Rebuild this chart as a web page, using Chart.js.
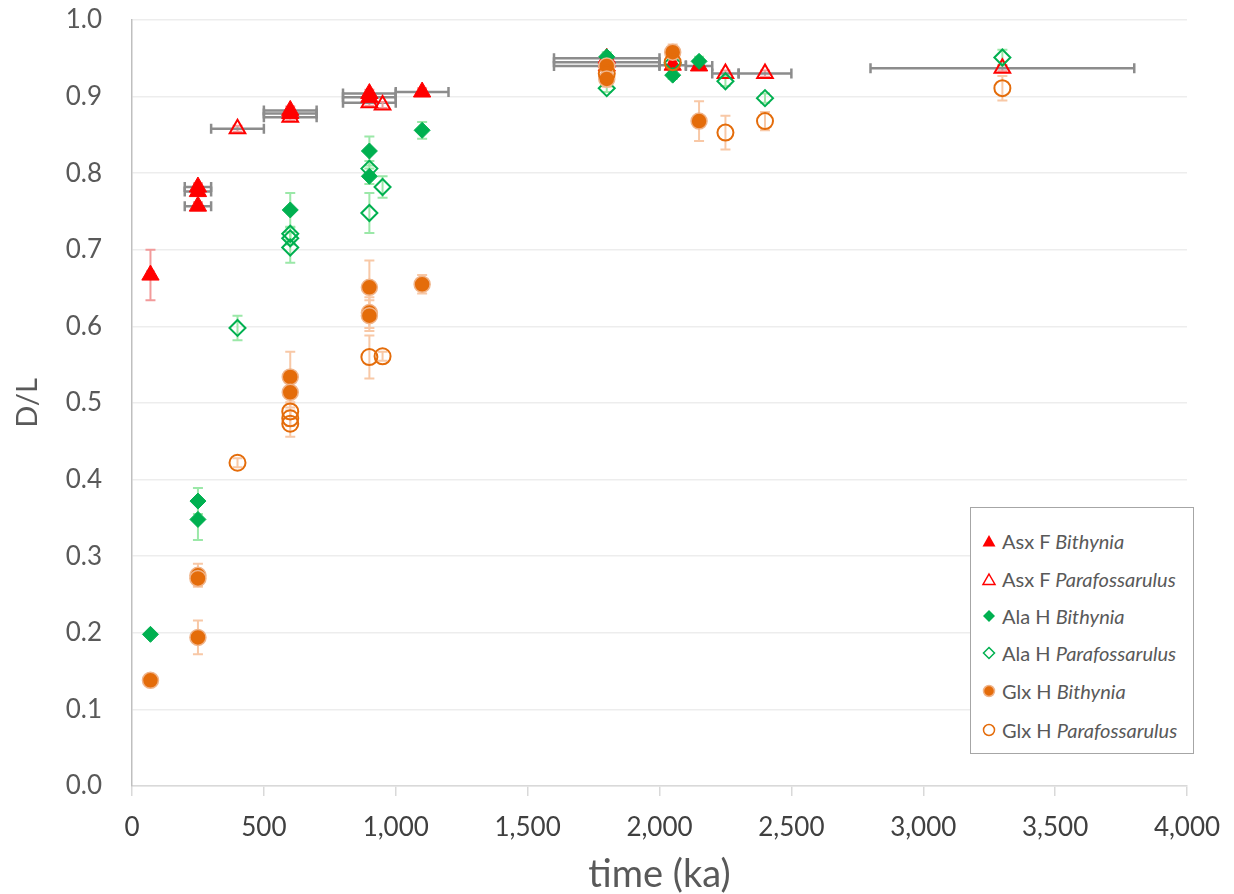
<!DOCTYPE html>
<html>
<head>
<meta charset="utf-8">
<script src="https://cdn.jsdelivr.net/npm/chart.js@4.4.1/dist/chart.umd.min.js"></script>
<style>
  html, body { margin: 0; padding: 0; background: #fff; }
  #wrap { position: relative; width: 1234px; height: 894px; }
  #legend {
    position: absolute; left: 970px; top: 507px; width: 224px; height: 247px;
    border: 1px solid #A6A6A6; background: #fff; box-sizing: border-box;
    font-family: Lato, "Open Sans", sans-serif; font-size: 20px; color: #595959;
  }
  .item { position: absolute; left: 10px; height: 26px; line-height: 26px; display: flex; align-items: center; white-space: nowrap; }
  .item svg { width: 16px; height: 16px; margin-right: 5px; }
</style>
</head>
<body>
<div id="wrap">
  <canvas id="chart" width="1234" height="894"></canvas>
  <div id="legend"></div>
</div>
<script>
// Asx F Bithynia
const asxBithX    = [70, 250, 250, 250, 600, 600, 900, 900, 1100, 1800, 1800, 1800, 2050, 2150];
const asxBithY    = [0.667, 0.782, 0.776, 0.757, 0.882, 0.878, 0.904, 0.899, 0.906, 0.950, 0.945, 0.940, 0.941, 0.940];
const asxBithXErr = [10, 50, 50, 50, 100, 100, 100, 100, 100, 200, 200, 200, 50, 50];
const asxBithYErr = [0.033, 0.005, 0.005, 0.005, 0.005, 0.005, 0.005, 0.005, 0.005, 0.005, 0.005, 0.005, 0.005, 0.005];

// Asx F Parafossarulus
const asxParaX    = [400, 600, 900, 950, 2250, 2400, 3300];
const asxParaY    = [0.858, 0.873, 0.892, 0.889, 0.930, 0.930, 0.937];
const asxParaXErr = [100, 100, 100, 0, 50, 100, 500];
const asxParaYErr = [0.004, 0.004, 0.004, 0.004, 0.004, 0.004, 0.004];

// Ala H Bithynia
const alaBithX    = [70, 250, 250, 600, 900, 900, 1100, 1800, 2050, 2150];
const alaBithY    = [0.198, 0.372, 0.348, 0.752, 0.829, 0.796, 0.856, 0.952, 0.928, 0.946];
const alaBithYErr = [0, 0.017, 0.027, 0.022, 0.019, 0.01, 0.011, 0.006, 0.005, 0.006];

// Ala H Parafossarulus
const alaParaX    = [400, 600, 600, 600, 900, 900, 950, 1800, 2050, 2250, 2400, 3300];
const alaParaY    = [0.598, 0.721, 0.715, 0.703, 0.806, 0.748, 0.782, 0.911, 0.944, 0.920, 0.898, 0.951];
const alaParaYErr = [0.016, 0.008, 0.008, 0.02, 0.01, 0.026, 0.014, 0.005, 0.005, 0.006, 0.006, 0.01];

// Glx H Bithynia
const glxBithX    = [70, 250, 250, 250, 600, 600, 900, 900, 900, 1100, 1800, 1800, 2050, 2150];
const glxBithY    = [0.138, 0.275, 0.271, 0.194, 0.534, 0.514, 0.651, 0.618, 0.614, 0.655, 0.940, 0.923, 0.958, 0.868];
const glxBithYErr = [0.004, 0.015, 0.01, 0.022, 0.033, 0.02, 0.035, 0.02, 0.02, 0.012, 0.01, 0.01, 0.01, 0.026];

// Glx H Parafossarulus
const glxParaX    = [400, 600, 600, 600, 900, 950, 1800, 2050, 2250, 2400, 3300];
const glxParaY    = [0.422, 0.489, 0.480, 0.473, 0.560, 0.561, 0.930, 0.945, 0.853, 0.868, 0.911];
const glxParaYErr = [0.006, 0.01, 0.01, 0.017, 0.028, 0.006, 0.01, 0.01, 0.022, 0.012, 0.016];

const xTicks = [0, 500, 1000, 1500, 2000, 2500, 3000, 3500, 4000];

const RED = '#FF0000', GREEN = '#00B050', ORANGE = '#E46C0A';

function pts(xs, ys) { return xs.map((x, i) => ({ x: x, y: ys[i] })); }

const datasets = [
  { label: 'Asx F Bithynia', data: pts(asxBithX, asxBithY), xErr: asxBithXErr, yErr: asxBithYErr, errColor: '#F29A9A',
    pointStyle: 'triangle', radius: 10, backgroundColor: RED, borderColor: RED, borderWidth: 1, order: 5 },
  { label: 'Asx F Parafossarulus', data: pts(asxParaX, asxParaY), xErr: asxParaXErr, yErr: asxParaYErr, errColor: '#F29A9A',
    pointStyle: 'triangle', radius: 9, backgroundColor: 'rgba(255,255,255,0)', borderColor: RED, borderWidth: 2, order: 4 },
  { label: 'Ala H Bithynia', data: pts(alaBithX, alaBithY), yErr: alaBithYErr, errColor: '#9BE8A8',
    pointStyle: 'rectRot', radius: 8, backgroundColor: GREEN, borderColor: GREEN, borderWidth: 1, order: 3 },
  { label: 'Ala H Parafossarulus', data: pts(alaParaX, alaParaY), yErr: alaParaYErr, errColor: '#9BE8A8',
    pointStyle: 'rectRot', radius: 8, backgroundColor: 'rgba(255,255,255,0)', borderColor: GREEN, borderWidth: 2, order: 2 },
  { label: 'Glx H Bithynia', data: pts(glxBithX, glxBithY), yErr: glxBithYErr, errColor: '#F8C8A6',
    pointStyle: 'circle', radius: 8, backgroundColor: ORANGE, borderColor: '#F0B48A', borderWidth: 1.5, order: 1 },
  { label: 'Glx H Parafossarulus', data: pts(glxParaX, glxParaY), yErr: glxParaYErr, errColor: '#F8C8A6',
    pointStyle: 'circle', radius: 8, backgroundColor: 'rgba(255,255,255,0)', borderColor: ORANGE, borderWidth: 2, order: 0 }
];
datasets.forEach(d => { d.pointRadius = d.radius; d.pointHoverRadius = d.radius; d.showLine = false; });

// error bars, drawn under the markers
const errorBars = {
  id: 'errorBars',
  beforeDatasetsDraw(chart) {
    const ctx = chart.ctx, xs = chart.scales.x, ys = chart.scales.y;
    ctx.save();
    chart.data.datasets.forEach(ds => {
      ds.data.forEach((p, i) => {
        const px = xs.getPixelForValue(p.x), py = ys.getPixelForValue(p.y);
        const ye = ds.yErr ? ds.yErr[i] : 0;
        if (ye > 0) {
          const t = ys.getPixelForValue(p.y + ye), b = ys.getPixelForValue(p.y - ye);
          ctx.strokeStyle = ds.errColor; ctx.lineWidth = 2;
          ctx.beginPath();
          ctx.moveTo(px, t); ctx.lineTo(px, b);
          ctx.moveTo(px - 5, t); ctx.lineTo(px + 5, t);
          ctx.moveTo(px - 5, b); ctx.lineTo(px + 5, b);
          ctx.stroke();
        }
        const xe = ds.xErr ? ds.xErr[i] : 0;
        if (xe > 0) {
          const l = xs.getPixelForValue(p.x - xe), r = xs.getPixelForValue(p.x + xe);
          ctx.strokeStyle = '#8C8C8C'; ctx.lineWidth = 2.5;
          ctx.beginPath();
          ctx.moveTo(l, py); ctx.lineTo(r, py);
          ctx.moveTo(l, py - 5); ctx.lineTo(l, py + 5);
          ctx.moveTo(r, py - 5); ctx.lineTo(r, py + 5);
          ctx.stroke();
        }
      });
    });
    ctx.restore();
  }
};

const FONT = 'Lato, "Open Sans", sans-serif';

new Chart(document.getElementById('chart'), {
  type: 'scatter',
  data: { datasets: datasets },
  options: {
    responsive: false,
    animation: false,
    layout: { padding: { left: 0, right: 47, top: 20, bottom: 0 } },
    plugins: { legend: { display: false }, tooltip: { enabled: false } },
    scales: {
      x: {
        type: 'linear', min: 0, max: 4000,
        afterBuildTicks: s => { s.ticks = xTicks.map(v => ({ value: v })); },
        afterFit: s => { s.height = 108; s.paddingLeft = 0; s.paddingRight = 0; },
        grid: { display: true, drawOnChartArea: false, drawTicks: true, tickLength: 10, color: '#D9D9D9', lineWidth: 1.5 },
        border: { display: true, color: '#D9D9D9', width: 1.5 },
        ticks: { padding: 16, color: '#404040', font: { family: FONT, size: 26 },
                 callback: v => v.toLocaleString('en-US') },
        title: { display: true, text: 'time (ka)', color: '#595959', font: { family: FONT, size: 38, lineHeight: 1.0 }, padding: { top: 0, bottom: 0 } }
      },
      y: {
        min: 0, max: 1,
        afterFit: s => { s.width = 132; s.paddingTop = 0; s.paddingBottom = 0; },
        grid: { color: '#EDEDED', lineWidth: 1.5, drawTicks: false },
        border: { display: true, color: '#BFBFBF', width: 1.5 },
        ticks: { stepSize: 0.1, padding: 30, color: '#595959', font: { family: FONT, size: 26 },
                 callback: v => v.toFixed(1) },
        title: { display: true, text: 'D/L', color: '#595959', font: { family: FONT, size: 29 }, padding: { top: 10, bottom: 0 } }
      }
    }
  },
  plugins: [errorBars]
});

// legend with italic genus names
const legendIcons = [
  '<svg viewBox="0 0 16 16"><polygon points="8,2 14.5,13.5 1.5,13.5" fill="#FF0000"/></svg>',
  '<svg viewBox="0 0 16 16"><polygon points="8,3 14,13.5 2,13.5" fill="none" stroke="#FF0000" stroke-width="1.5"/></svg>',
  '<svg viewBox="0 0 16 16"><polygon points="8,2 14,8 8,14 2,8" fill="#00B050"/></svg>',
  '<svg viewBox="0 0 16 16"><polygon points="8,2.5 13.5,8 8,13.5 2.5,8" fill="none" stroke="#00B050" stroke-width="1.5"/></svg>',
  '<svg viewBox="0 0 16 16"><circle cx="8" cy="8" r="5.5" fill="#E46C0A" stroke="#F0B48A" stroke-width="1.5"/></svg>',
  '<svg viewBox="0 0 16 16"><circle cx="8" cy="8" r="5.5" fill="none" stroke="#E46C0A" stroke-width="1.5"/></svg>'
];
const legendTops = [33, 71, 108, 145, 183, 222];
const legendEl = document.getElementById('legend');
datasets.forEach((d, i) => {
  const parts = d.label.split(' ');
  const genus = parts.pop();
  const div = document.createElement('div');
  div.className = 'item';
  div.style.top = (legendTops[i] - 13) + 'px';
  div.innerHTML = legendIcons[i] + '<span>' + parts.join(' ') + ' <i>' + genus + '</i></span>';
  legendEl.appendChild(div);
});
</script>
</body>
</html>
